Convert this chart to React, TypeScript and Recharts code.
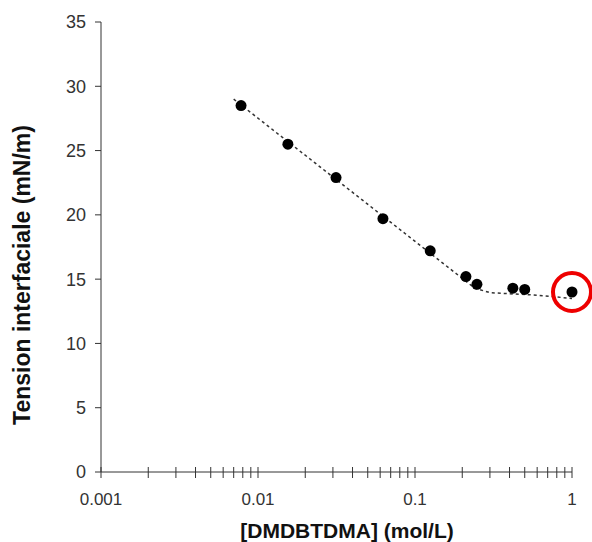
import { ScatterChart, Scatter, XAxis, YAxis, ReferenceDot } from 'recharts'

// measured points
const concentration = [0.0078, 0.0155, 0.0314, 0.0625, 0.125, 0.211, 0.248, 0.42, 0.5, 1.0]
const tension = [28.5, 25.5, 22.9, 19.7, 17.2, 15.2, 14.6, 14.3, 14.2, 14.0]

// dashed fit curve
const fitConc = [0.007, 0.24, 0.3, 0.6, 1.0]
const fitTension = [29.0, 14.3, 13.95, 13.75, 13.5]

const xTicks = [
  0.001, 0.002, 0.003, 0.004, 0.005, 0.006, 0.007, 0.008, 0.009,
  0.01, 0.02, 0.03, 0.04, 0.05, 0.06, 0.07, 0.08, 0.09,
  0.1, 0.2, 0.3, 0.4, 0.5, 0.6, 0.7, 0.8, 0.9, 1,
]
const xLabels: Record<string, string> = { '0.001': '0.001', '0.01': '0.01', '0.1': '0.1', '1': '1' }
const yTicks = [0, 5, 10, 15, 20, 25, 30, 35]

const points = concentration.map((c, i) => ({ c, t: tension[i] }))
const fit = fitConc.map((c, i) => ({ c, t: fitTension[i] }))

const font = '"Liberation Sans", Arial, sans-serif'

const XTick = (props: any) => {
  const { x, y, payload } = props
  const label = xLabels[String(payload.value)]
  return (
    <g>
      <line x1={x} x2={x} y1={y - 5} y2={y + 6} stroke="#333" strokeWidth={1} />
      {label && (
        <text x={x} y={y + 33} textAnchor="middle" fontSize={17} fill="#333" fontFamily={font}>
          {label}
        </text>
      )}
    </g>
  )
}

export default function App() {
  return (
    <div style={{ position: 'absolute', left: 0, top: 0, width: 592, height: 542, background: '#fff' }}>
      <ScatterChart width={592} height={542} margin={{ top: 22, right: 20, bottom: 0, left: 0 }}>
        <XAxis
          type="number"
          dataKey="c"
          scale="log"
          domain={[0.001, 1]}
          ticks={xTicks}
          tick={<XTick />}
          tickLine={false}
          tickSize={0}
          tickMargin={0}
          interval={0}
          stroke="#333"
          height={70}
        />
        <YAxis
          type="number"
          dataKey="t"
          domain={[0, 35]}
          ticks={yTicks}
          width={101}
          tickSize={6}
          tickMargin={9}
          stroke="#333"
          tick={{ fill: '#333', fontSize: 18, fontFamily: font }}
        />
        <Scatter
          data={fit}
          line={{ stroke: '#333', strokeWidth: 1.5, strokeDasharray: '3 3' }}
          shape={() => <g />}
          isAnimationActive={false}
        />
        <Scatter data={points} fill="#000" shape={(p: any) => <circle cx={p.cx} cy={p.cy} r={5.5} fill="#000" />} isAnimationActive={false} />
        <ReferenceDot x={1} y={14} r={19} fill="none" stroke="#ee0000" strokeWidth={4} ifOverflow="visible" />
      </ScatterChart>
      <div
        style={{
          position: 'absolute',
          left: 22,
          top: 275,
          transform: 'translate(-50%, -50%) rotate(-90deg)',
          whiteSpace: 'nowrap',
          fontFamily: font,
          fontWeight: 'bold',
          fontSize: 23,
          color: '#111',
        }}
      >
        Tension interfaciale (mN/m)
      </div>
      <div
        style={{
          position: 'absolute',
          left: 347,
          top: 531,
          transform: 'translate(-50%, -50%)',
          whiteSpace: 'nowrap',
          fontFamily: font,
          fontWeight: 'bold',
          fontSize: 21,
          color: '#111',
        }}
      >
        [DMDBTDMA] (mol/L)
      </div>
    </div>
  )
}
